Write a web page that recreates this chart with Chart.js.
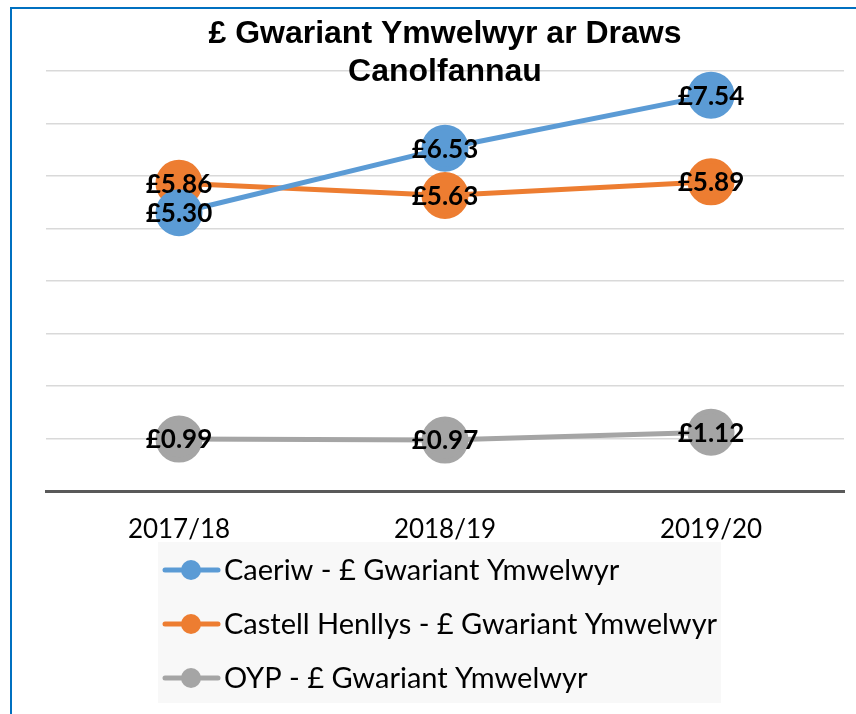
<!DOCTYPE html>
<html><head><meta charset="utf-8">
<script src="https://cdn.jsdelivr.net/npm/chart.js@4"></script>
<style>html,body{margin:0;padding:0;background:#fff;}#wrap{width:856px;height:714px;position:relative;}</style>
</head><body><div id="wrap"><canvas id="c" width="856" height="714"></canvas></div>
<script>
const categories = ['2017/18', '2018/19', '2019/20'];
const seriesNames = ['Caeriw - £ Gwariant Ymwelwyr', 'Castell Henllys - £ Gwariant Ymwelwyr', 'OYP - £ Gwariant Ymwelwyr'];
const caeriwValues = [5.30, 6.53, 7.54];
const castellHenllysValues = [5.86, 5.63, 5.89];
const oypValues = [0.99, 0.97, 1.12];
const titleLines = ['£ Gwariant Ymwelwyr ar Draws', 'Canolfannau'];
const yMin = 0, yMax = 8, yStep = 1;

const colors = ['#5b9bd5', '#ed7d31', '#a5a5a5'];
const FONT = 'Lato, "Open Sans", sans-serif';

const decorPlugin = {
  id: 'decor',
  beforeDraw(chart) {
    const ctx = chart.ctx;
    ctx.save();
    ctx.fillStyle = '#fff';
    ctx.fillRect(0, 0, chart.width, chart.height);
    ctx.strokeStyle = '#0070c0';
    ctx.lineWidth = 2;
    ctx.strokeRect(11, 8, 900, 800);
    ctx.restore();
  },
  afterDatasetsDraw(chart) {
    const ctx = chart.ctx;
    ctx.save();
    ctx.font = 'bold 26px ' + FONT;
    ctx.fillStyle = '#000';
    ctx.textAlign = 'center';
    ctx.textBaseline = 'middle';
    chart.data.datasets.forEach((ds, i) => {
      const meta = chart.getDatasetMeta(i);
      meta.data.forEach((pt, j) => {
        ctx.fillText('£' + ds.data[j].toFixed(2), pt.x, pt.y + 1);
      });
    });
    ctx.restore();
  },
  afterDraw(chart) {
    const ctx = chart.ctx;
    const ca = chart.chartArea;
    const cx = (ca.left + ca.right) / 2;
    ctx.save();
    // title
    ctx.font = 'bold 32px "Liberation Sans", Arial, sans-serif';
    ctx.fillStyle = '#000';
    ctx.textAlign = 'center';
    ctx.textBaseline = 'alphabetic';
    ctx.fillText(titleLines[0], cx, 43);
    ctx.fillText(titleLines[1], cx, 81);
    // legend
    ctx.fillStyle = '#f8f8f8';
    ctx.fillRect(158, 542, 563, 161);
    chart.data.datasets.forEach((ds, i) => {
      const y = 570 + i * 54;
      ctx.strokeStyle = ds.borderColor;
      ctx.lineWidth = 5;
      ctx.lineCap = 'round';
      ctx.beginPath();
      ctx.moveTo(165, y);
      ctx.lineTo(218, y);
      ctx.stroke();
      ctx.fillStyle = ds.backgroundColor;
      ctx.beginPath();
      ctx.arc(191, y, 10, 0, Math.PI * 2);
      ctx.fill();
      ctx.fillStyle = '#000';
      ctx.font = '29px ' + FONT;
      ctx.textAlign = 'left';
      ctx.textBaseline = 'middle';
      ctx.fillText(ds.label, 224, y + 1);
    });
    ctx.restore();
  }
};

const datasets = [caeriwValues, castellHenllysValues, oypValues].map((vals, i) => ({
  label: seriesNames[i],
  data: vals,
  borderColor: colors[i],
  backgroundColor: colors[i],
  pointBackgroundColor: colors[i],
  pointBorderColor: colors[i],
  borderWidth: 5,
  borderCapStyle: 'round',
  pointRadius: 21,
  pointHoverRadius: 21,
  tension: 0
}));

new Chart(document.getElementById('c'), {
  type: 'line',
  data: { labels: categories, datasets },
  plugins: [decorPlugin],
  options: {
    responsive: false,
    devicePixelRatio: 1,
    animation: false,
    layout: { autoPadding: false, padding: { left: 46, right: 12, top: 71, bottom: 0 } },
    plugins: { legend: { display: false }, title: { display: false }, tooltip: { enabled: false } },
    scales: {
      x: {
        offset: true,
        grid: { display: true, drawOnChartArea: false, drawTicks: false, color: 'rgba(0,0,0,0)' },
        border: { display: true, color: '#595959', width: 3 },
        ticks: { font: { family: FONT, size: 26 }, color: '#000', padding: 23 },
        afterFit(s) { s.height = 714 - 491; s.paddingLeft = 0; s.paddingRight = 0; }
      },
      y: {
        min: yMin, max: yMax,
        ticks: { display: false, stepSize: yStep },
        grid: { drawTicks: false, lineWidth: 1.5, color: c => (c.tick && c.tick.value === 0) ? 'rgba(0,0,0,0)' : '#d9d9d9' },
        border: { display: false },
        afterFit(s) { s.width = 0; s.paddingTop = 0; s.paddingBottom = 0; }
      }
    }
  }
});
</script>
</body></html>
